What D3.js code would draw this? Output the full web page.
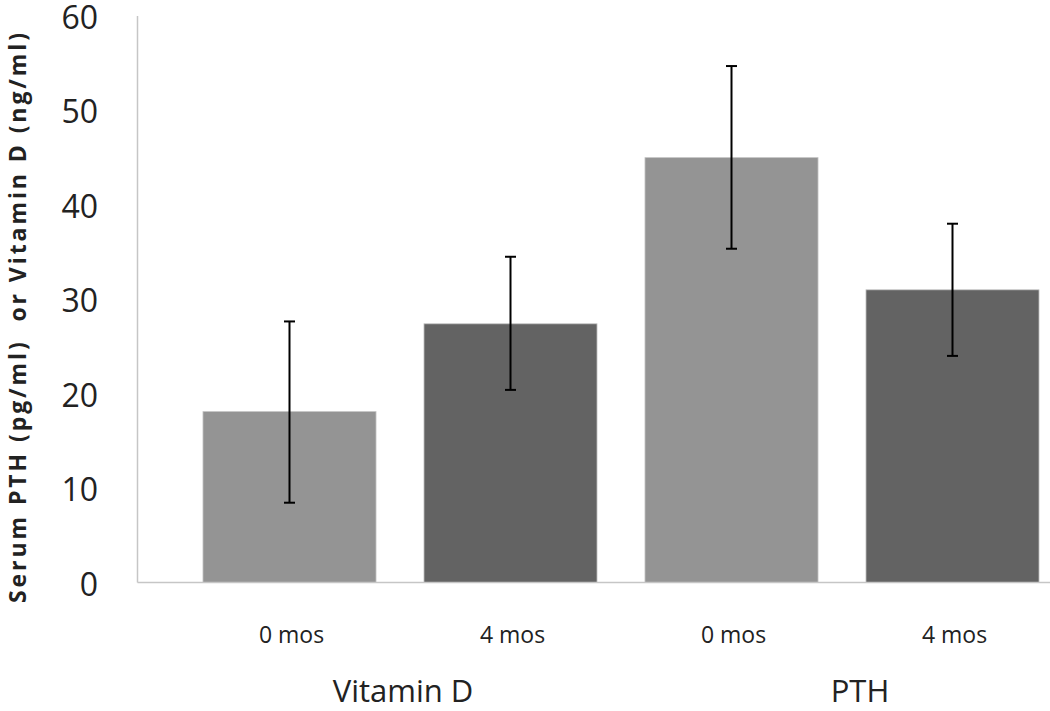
<!DOCTYPE html>
<html>
<head>
<meta charset="utf-8">
<script src="https://cdn.jsdelivr.net/npm/d3@7"></script>
<style>
  body { margin: 0; background: #fff; }
  svg { display: block; }
  text { font-family: "Open Sans", "Noto Sans", sans-serif; fill: #222; }
</style>
</head>
<body>
<svg id="chart" width="1050" height="711"></svg>
<script>
// ---- data ----
const barIds     = ["VD0", "VD4", "PTH0", "PTH4"];
const barLabels  = ["0 mos", "4 mos", "0 mos", "4 mos"];
const barGroup   = ["Vitamin D", "Vitamin D", "PTH", "PTH"];
const groups     = ["Vitamin D", "PTH"];
const means      = [18.1, 27.4, 45.0, 31.0];
const errLow     = [8.45, 20.4, 35.35, 24.0];
const errHigh    = [27.65, 34.5, 54.7, 38.0];
const barSeries  = ["0 mos", "4 mos", "0 mos", "4 mos"];
const yTicks     = [0, 10, 20, 30, 40, 50, 60];
const yTitle     = "Serum PTH (pg/ml)  or Vitamin D (ng/ml)";

// ---- layout ----
const svg = d3.select("#chart");
const x0 = 137.5, yBase = 582.5, yTop = 16;
const color = d3.scaleOrdinal().domain(["0 mos", "4 mos"]).range(["#949494", "#636363"]);

const x = d3.scaleBand().domain(barIds).range([179, 1063])
  .paddingInner(0.217).paddingOuter(0.1085);
const y = d3.scaleLinear().domain([0, 60]).range([yBase, yTop]);

const data = barIds.map((id, i) => ({
  id, label: barLabels[i], group: barGroup[i], series: barSeries[i],
  mean: means[i], lo: errLow[i], hi: errHigh[i]
}));

// bars
svg.append("g").selectAll("rect").data(data).join("rect")
  .attr("x", d => x(d.id))
  .attr("y", d => y(d.mean))
  .attr("width", x.bandwidth())
  .attr("height", d => y(0) - y(d.mean))
  .attr("fill", d => color(d.series))
  .attr("stroke", "#c4c4c4")
  .attr("stroke-width", 0.8);

// axes lines
svg.append("line").attr("x1", x0).attr("x2", x0).attr("y1", y(60)).attr("y2", y(0))
  .attr("stroke", "#c6c6c6").attr("stroke-width", 1.5);
svg.append("line").attr("x1", x0).attr("x2", 1050).attr("y1", y(0)).attr("y2", y(0))
  .attr("stroke", "#c6c6c6").attr("stroke-width", 1.5);

// y tick labels
svg.append("g").selectAll("text").data(yTicks).join("text")
  .attr("x", 98)
  .attr("y", d => y(d) + 13)
  .attr("text-anchor", "end")
  .attr("font-size", 32)
  .text(d => d);

// error bars
const eb = svg.append("g").attr("stroke", "#000").attr("stroke-width", 2);
data.forEach(d => {
  const cx = x(d.id) + x.bandwidth() / 2;
  eb.append("line").attr("x1", cx).attr("x2", cx).attr("y1", y(d.hi)).attr("y2", y(d.lo));
  eb.append("line").attr("x1", cx - 5.5).attr("x2", cx + 5.5).attr("y1", y(d.hi)).attr("y2", y(d.hi));
  eb.append("line").attr("x1", cx - 5.5).attr("x2", cx + 5.5).attr("y1", y(d.lo)).attr("y2", y(d.lo));
});

// x category labels
svg.append("g").selectAll("text").data(data).join("text")
  .attr("x", d => x(d.id) + x.bandwidth() / 2 + 2)
  .attr("y", 643)
  .attr("text-anchor", "middle")
  .attr("font-size", 23)
  .text(d => d.label);

// group labels
const groupDx = [3, 18];
svg.append("g").selectAll("text").data(groups).join("text")
  .attr("x", (g, i) => {
    const ids = data.filter(d => d.group === g).map(d => x(d.id) + x.bandwidth() / 2);
    return d3.mean(ids) + groupDx[i];
  })
  .attr("y", 702)
  .attr("text-anchor", "middle")
  .attr("font-size", 31)
  .text(g => g);

// y title
svg.append("text")
  .attr("transform", "translate(26,318) rotate(-90)")
  .attr("text-anchor", "middle")
  .attr("font-size", 23)
  .attr("font-weight", "bold")
  .style("white-space", "pre")
  .attr("textLength", 570)
  .attr("lengthAdjust", "spacing")
  .text(yTitle);
</script>
</body>
</html>
